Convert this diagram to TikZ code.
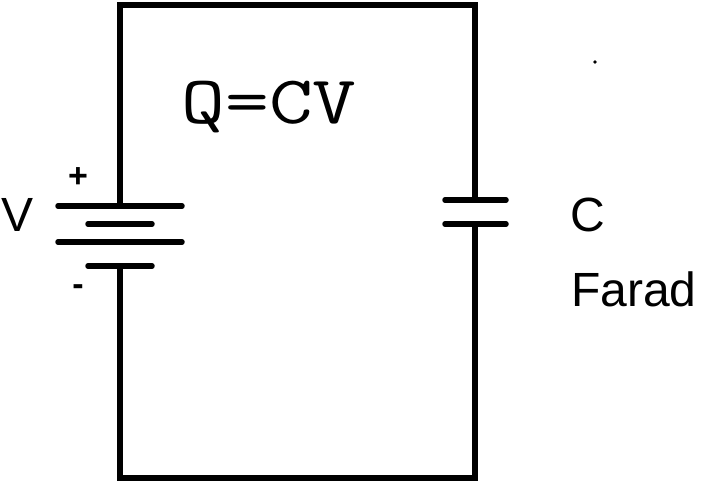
\documentclass[tikz,border=0pt]{standalone}
\usepackage{fontspec}
\setmainfont{Liberation Sans}
\begin{document}
\begin{tikzpicture}[x=1pt,y=-1pt,w/.style={line width=5.5pt,line cap=round},lbl/.style={inner sep=0pt,font=\fontsize{48}{50}\selectfont}]
\useasboundingbox (0,0) rectangle (710,483);
\coordinate (tl) at (120,5); \coordinate (tr) at (475,5);
\coordinate (bl) at (120,478); \coordinate (br) at (475,478);
\coordinate (bt) at (120,206); \coordinate (bb) at (120,266);
\coordinate (ct) at (475,200); \coordinate (cb) at (475,224);
\draw[line width=5.5pt] (bt) -- (tl) -- (tr) -- (ct);
\draw[line width=5.5pt] (cb) -- (br) -- (bl) -- (bb);
\draw[w] (58,206) -- (182,206);
\draw[w] (88,224) -- (152,224);
\draw[w] (58,242) -- (182,242);
\draw[w] (88,266) -- (152,266);
\draw[w] (445,200) -- (506,200);
\draw[w] (445,224) -- (506,224);
\node[lbl,font=\fontsize{34}{36}\selectfont\bfseries] (p) at (78,178) {+};
\node[lbl,font=\fontsize{34}{36}\selectfont\bfseries] (m) at (78,290) {-};
\node[lbl] (V) at (18,215) {V};
\node[lbl] (C) at (588,215) {C};
\node[lbl,anchor=west] (F) at (571,289) {Farad};
\node[lbl,font=\ttfamily\fontsize{68}{70}\selectfont,xscale=1.25] (Q) at (269,107) {Q=CV};
\fill (595,62) circle (1.8);
\end{tikzpicture}
\end{document}
